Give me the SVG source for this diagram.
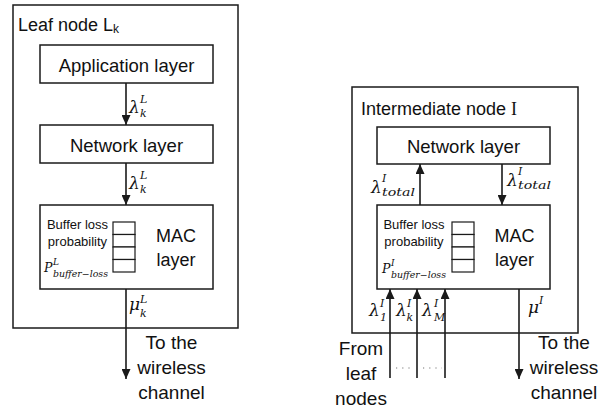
<svg xmlns="http://www.w3.org/2000/svg" width="611" height="414" viewBox="0 0 611 414">
<style>
  .box { fill: #fff; stroke: #1a1a1a; stroke-width: 1.5; }
  .cell { fill: #fff; stroke: #1a1a1a; stroke-width: 1.2; }
  .sans { font-family: "Liberation Sans", Arial, sans-serif; fill: #111; }
  .lbl { font-size: 18.5px; text-anchor: middle; }
  .big { font-size: 18px; }
  .small { font-size: 13px; text-anchor: middle; }
  .out { font-size: 19px; text-anchor: middle; }
  .math { font-family: "DejaVu Serif", "Liberation Serif", serif; font-style: italic; fill: #111; }
  .m1 { font-size: 17px; }
  .m2 { font-size: 11px; }
  .m3 { font-size: 12.5px; }
  .m4 { font-size: 9px; }
  .conn { stroke: #1a1a1a; stroke-width: 1.6; fill: none; }
  .dots { stroke: #777; stroke-width: 1.2; stroke-dasharray: 1.2 5; fill: none; }
</style>
<defs>
  <marker id="ah" markerUnits="userSpaceOnUse" markerWidth="10" markerHeight="9" refX="10" refY="4.5" orient="auto">
    <path d="M0,0 L10,4.5 L0,9 z" fill="#1a1a1a"/>
  </marker>
</defs>

<!-- Leaf node -->
<g id="leaf-node">
  <rect class="box" x="13" y="5" width="225" height="323"/>
  <text class="sans big" x="18" y="31">Leaf node L<tspan font-size="12" dy="2">k</tspan></text>
</g>
<g id="leaf-app-layer">
  <rect class="box" x="40" y="45" width="173" height="38"/>
  <text class="sans lbl" x="126.5" y="72">Application layer</text>
</g>
<g id="leaf-network-layer">
  <rect class="box" x="40" y="125" width="173" height="38"/>
  <text class="sans lbl" x="126.5" y="152">Network layer</text>
</g>
<g id="leaf-mac-layer">
  <rect class="box" x="40" y="205" width="173" height="84"/>
  <rect class="cell" x="113" y="222" width="22" height="12.5"/>
  <rect class="cell" x="113" y="234.5" width="22" height="12.5"/>
  <rect class="cell" x="113" y="247" width="22" height="12.5"/>
  <rect class="cell" x="113" y="259.5" width="22" height="12.5"/>
  <text class="sans small" x="77.5" y="229">Buffer loss</text>
  <text class="sans small" x="77.5" y="246">probability</text>
  <text class="math m3" x="44" y="272">P</text>
  <text class="math m4" x="53" y="265">L</text>
  <text class="math m4" x="53" y="277" textLength="55" lengthAdjust="spacingAndGlyphs">buffer−loss</text>
  <text class="sans big" x="176" y="242" text-anchor="middle">MAC</text>
  <text class="sans big" x="176" y="266" text-anchor="middle">layer</text>
</g>

<!-- Intermediate node -->
<g id="intermediate-node">
  <rect class="box" x="352" y="87" width="226" height="246"/>
  <text class="sans big" x="361" y="115">Intermediate node <tspan font-family="Liberation Serif, serif">I</tspan></text>
</g>
<g id="int-network-layer">
  <rect class="box" x="377" y="127" width="173" height="37"/>
  <text class="sans lbl" x="463.5" y="153">Network layer</text>
</g>
<g id="int-mac-layer">
  <rect class="box" x="377" y="205" width="173" height="84"/>
  <rect class="cell" x="452" y="222" width="22" height="12.5"/>
  <rect class="cell" x="452" y="234.5" width="22" height="12.5"/>
  <rect class="cell" x="452" y="247" width="22" height="12.5"/>
  <rect class="cell" x="452" y="259.5" width="22" height="12.5"/>
  <text class="sans small" x="414" y="229">Buffer loss</text>
  <text class="sans small" x="414" y="246">probability</text>
  <text class="math m3" x="382" y="273">P</text>
  <text class="math m4" x="391" y="266">I</text>
  <text class="math m4" x="391" y="278" textLength="55" lengthAdjust="spacingAndGlyphs">buffer−loss</text>
  <text class="sans big" x="514.5" y="242" text-anchor="middle">MAC</text>
  <text class="sans big" x="514.5" y="266" text-anchor="middle">layer</text>
</g>

<!-- Connectors -->
<g id="connectors">
  <line class="conn" x1="126" y1="83" x2="126" y2="125" marker-end="url(#ah)"/>
  <line class="conn" x1="126" y1="163" x2="126" y2="205" marker-end="url(#ah)"/>
  <line class="conn" x1="126" y1="289" x2="126" y2="379" marker-end="url(#ah)"/>
  <line class="conn" x1="420" y1="205" x2="420" y2="164" marker-end="url(#ah)"/>
  <line class="conn" x1="502" y1="164" x2="502" y2="205" marker-end="url(#ah)"/>
  <line class="conn" x1="390" y1="378" x2="390" y2="289" marker-end="url(#ah)"/>
  <line class="conn" x1="417" y1="378" x2="417" y2="289" marker-end="url(#ah)"/>
  <line class="conn" x1="445" y1="378" x2="445" y2="289" marker-end="url(#ah)"/>
  <line class="conn" x1="519" y1="289" x2="519" y2="379" marker-end="url(#ah)"/>
  <line class="dots" x1="396" y1="368" x2="414" y2="368"/>
  <line class="dots" x1="423" y1="368" x2="442" y2="368"/>
</g>

<!-- Connector labels -->
<g id="labels">
  <text class="math m1" x="129" y="113">λ</text>
  <text class="math m2" x="140" y="102.5">L</text>
  <text class="math m2" x="140" y="116.5">k</text>

  <text class="math m1" x="129" y="189">λ</text>
  <text class="math m2" x="140" y="178.5">L</text>
  <text class="math m2" x="140" y="192.5">k</text>

  <text class="math m1" x="129" y="310">μ</text>
  <text class="math m2" x="140" y="302.5">L</text>
  <text class="math m2" x="140" y="316.5">k</text>

  <text class="math m1" x="371" y="193">λ</text>
  <text class="math m2" x="382" y="182">I</text>
  <text class="math m2" x="382" y="196" textLength="33" lengthAdjust="spacingAndGlyphs">total</text>

  <text class="math m1" x="507" y="186">λ</text>
  <text class="math m2" x="518" y="175">I</text>
  <text class="math m2" x="518" y="189" textLength="33" lengthAdjust="spacingAndGlyphs">total</text>

  <text class="math m1" x="369" y="316">λ</text>
  <text class="math m2" x="380" y="306.5">I</text>
  <text class="math m2" x="380" y="320.5">1</text>

  <text class="math m1" x="396" y="316">λ</text>
  <text class="math m2" x="407" y="306.5">I</text>
  <text class="math m2" x="406.5" y="320.5">k</text>

  <text class="math m1" x="422" y="316">λ</text>
  <text class="math m2" x="434" y="306.5">I</text>
  <text class="math m2" x="434" y="320.5" font-size="9.5">M</text>

  <text class="math m1" x="528" y="313">μ</text>
  <text class="math m2" x="539" y="304">I</text>

  <text class="sans out" x="171.5" y="349">To the</text>
  <text class="sans out" x="171.5" y="374">wireless</text>
  <text class="sans out" x="171.5" y="399">channel</text>

  <text class="sans out" x="564" y="349">To the</text>
  <text class="sans out" x="564" y="374">wireless</text>
  <text class="sans out" x="564" y="399">channel</text>

  <text class="sans out" x="361" y="355">From</text>
  <text class="sans out" x="361" y="380">leaf</text>
  <text class="sans out" x="361" y="405">nodes</text>
</g>
</svg>
